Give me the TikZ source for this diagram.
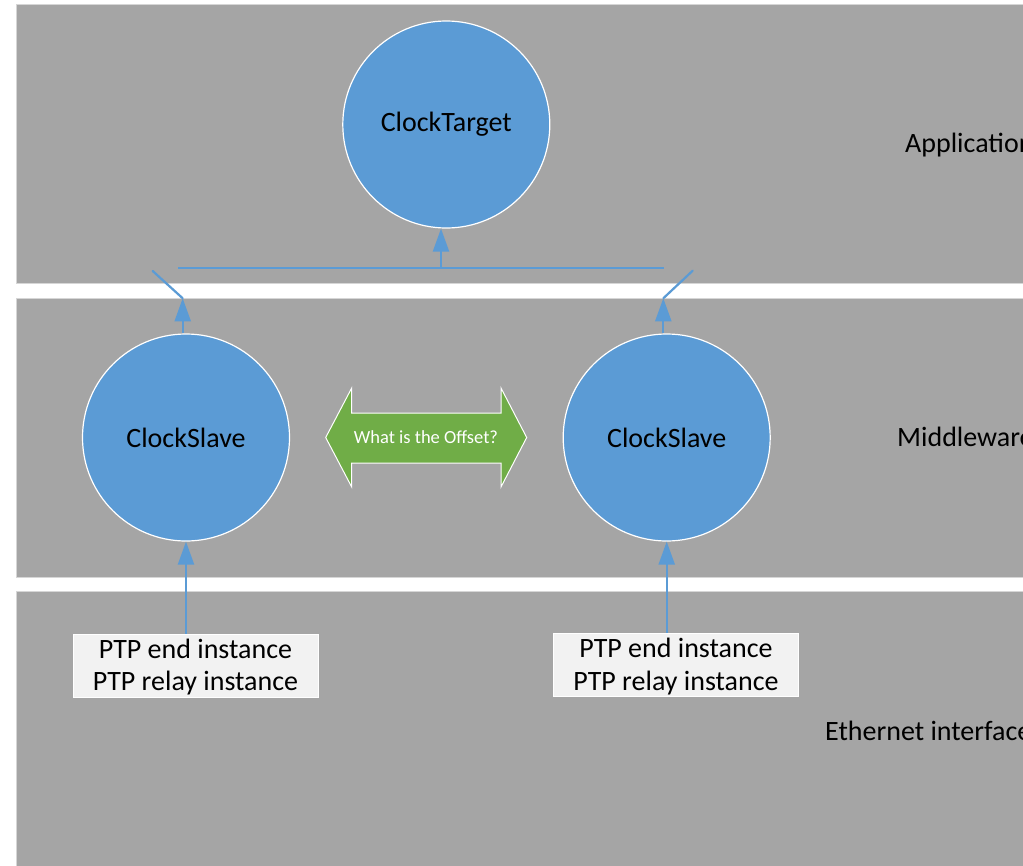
\documentclass[tikz,border=0pt]{standalone}
\usepackage{fontspec}
\setmainfont{Carlito}
\usetikzlibrary{arrows.meta}
\definecolor{bandgray}{HTML}{A5A5A5}
\definecolor{bandedge}{HTML}{D6D6D6}
\definecolor{clockblue}{HTML}{5B9BD5}
\definecolor{offgreen}{HTML}{70AD47}
\definecolor{boxfill}{HTML}{F2F2F2}
\tikzset{
  band/.style={fill=bandgray, draw=bandedge, line width=1pt},
  clocknode/.style={circle, fill=clockblue, draw=white, line width=1.2pt, minimum size=207pt, inner sep=0pt, font=\fontsize{28}{33}\selectfont},
  ptpbox/.style={rectangle, fill=boxfill, draw=white, line width=0.8pt, minimum width=245pt, minimum height=63pt, inner sep=0pt},
  ptptext/.style={anchor=base, inner sep=0pt, font=\fontsize{28}{33}\selectfont},
  layerlabel/.style={anchor=base west, inner sep=0pt, font=\fontsize{28}{33}\selectfont},
  conn/.style={draw=clockblue, line width=2.2pt},
  connarrow/.style={conn, -{Triangle[width=16pt,length=23pt]}},
  offsetarrow/.style={fill=offgreen, draw=white, line width=1pt},
}
\begin{document}
\begin{tikzpicture}[x=1pt,y=-1pt]
\clip (0,0) rectangle (1023,865);
\fill[white] (0,0) rectangle (1023,865);
% layer bands
\draw[band] (16.5,4.5) rectangle (1060,283);
\draw[band] (16.5,298) rectangle (1060,577);
\draw[band] (16.5,591) rectangle (1060,900);
% layer labels
\node[layerlabel] (lapp) at (905,152.3) {Application};
\node[layerlabel] (lmid) at (897,446.7) {Middleware};
\node[layerlabel] (leth) at (825,740.7) {Ethernet interface};
% clocks
\node[clocknode] (t) at (446.3,124.5) {ClockTarget};
\node[clocknode] (s1) at (186,437.5) {ClockSlave};
\node[clocknode] (s2) at (666.7,437.5) {ClockSlave};
% PTP boxes
\node[ptpbox] (b1) at (195.5,665.5) {};
\node[ptptext] (b1a) at (195.5,658.3) {PTP end instance};
\node[ptptext] (b1b) at (195.5,690.7) {PTP relay instance};
\node[ptpbox] (b2) at (676,665) {};
\node[ptptext] (b2a) at (676,657.6) {PTP end instance};
\node[ptptext] (b2b) at (676,690.2) {PTP relay instance};
% offset double arrow
\draw[offsetarrow] (325.7,437.5) -- (351.7,388) -- (351.7,413) -- (501,413) -- (501,388)
  -- (526.7,437.5) -- (501,487) -- (501,463) -- (351.7,463) -- (351.7,487) -- cycle;
\node[text=white, inner sep=0pt, font=\fontsize{18.5}{22}\selectfont] (off) at (426,437.5) {What is the Offset?};
% switch coordinates
\coordinate (hl) at (178,267.7);
\coordinate (hr) at (664,267.7);
\coordinate (hm) at (441,267.7);
\coordinate (cl) at (182.7,298.3);
\coordinate (dl) at (152.7,271);
\coordinate (cr) at (663.3,298.3);
\coordinate (dr) at (692.7,270.7);
% connectors
\draw[conn] (hl) -- (hr);
\draw[connarrow] (hm) -- (hm |- t.south);
\draw[connarrow] (cl |- s1.north) -- (cl);
\draw[conn, line cap=round] (cl) -- (dl);
\draw[connarrow] (cr |- s2.north) -- (cr);
\draw[conn, line cap=round] (cr) -- (dr);
\draw[connarrow] (s1.south |- b1.north) -- (s1.south);
\draw[connarrow] (s2.south |- b2.north) -- (s2.south);
\end{tikzpicture}
\end{document}
